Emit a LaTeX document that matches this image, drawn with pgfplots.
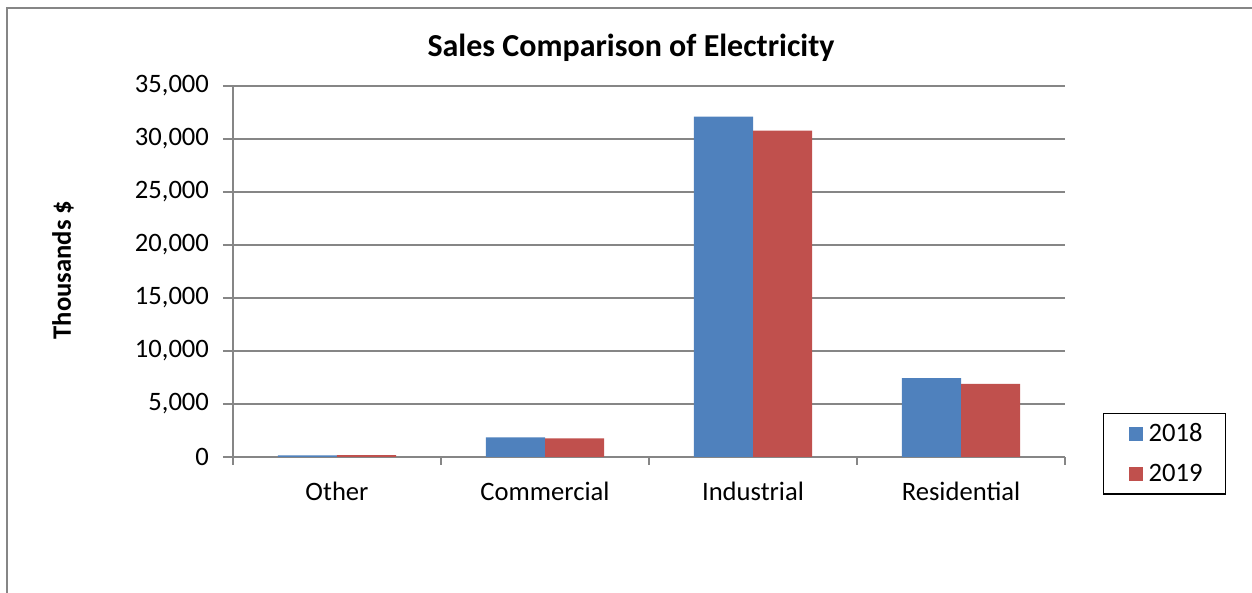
\documentclass[border=0pt]{standalone}
\usepackage{fontspec}
\setmainfont{Carlito}
\usepackage{pgfplots}
\pgfplotsset{compat=1.18}
\definecolor{xblue}{HTML}{4F81BD}
\definecolor{xred}{HTML}{C0504D}
\definecolor{xgray}{HTML}{868686}
\begin{document}
\begin{tikzpicture}
\begin{axis}[
  scale only axis,
  width=416pt, height=185.5pt,
  xmin=-0.5, xmax=3.5,
  ymin=0, ymax=35000,
  ytick={0,5000,...,35000},
  xtick={0,1,2,3},
  xticklabels={Other,Commercial,Industrial,Residential},
  minor xtick={-0.5,0.5,1.5,2.5,3.5},
  major x tick style={draw=none},
  minor x tick style={draw=xgray, line width=0.75pt},
  ytick style={draw=xgray, line width=0.75pt},
  tick align=outside,
  major tick length=5pt,
  minor tick length=4pt,
  axis x line*=bottom,
  axis y line*=left,
  axis line style={draw=xgray, line width=1pt, -},
  ymajorgrids,
  grid style={draw=xgray, line width=0.75pt},
  every axis plot/.append style={draw=none},
  ybar,
  bar width=0.284,
  scaled y ticks=false,
  /pgf/number format/fixed,
  /pgf/number format/1000 sep={,},
  /pgf/number format/assume math mode=true,
  ticklabel style={font=\fontsize{13.3}{16}\selectfont},
  yticklabel style={xshift=-3.5pt},
  xticklabel style={yshift=-4pt},
  clip=false,
  legend style={at={(1.0457,0.1186)}, anchor=north west, draw=black, line width=0.6pt,
    font=\fontsize{13.3}{16}\selectfont, inner xsep=9.5pt, inner ysep=3pt, row sep=5.5pt,
    cells={anchor=west}},
  legend image code/.code={\path (0pt,0pt) (11pt,0pt); \fill[#1] (3pt,-3.5pt) rectangle (10pt,3.5pt);},
]
\addplot[fill=xblue, bar shift=-0.142] coordinates {(0,150) (1,1850) (2,32100) (3,7450)};
\addplot[fill=xred, bar shift=0.142] coordinates {(0,180) (1,1750) (2,30800) (3,6900)};
\legend{2018,2019}
\coordinate (O) at (rel axis cs:0,0);
\end{axis}
\node[font=\bfseries\fontsize{16}{19}\selectfont] at ([shift={(199pt,204.5pt)}]O) {Sales Comparison of Electricity};
\node[rotate=90, font=\bfseries\fontsize{13.3}{16}\selectfont] at ([shift={(-85pt,93.5pt)}]O) {Thousands \$};
\draw[xgray, line width=1pt] ([shift={(-113pt,-90pt)}]O) |- ([shift={(530pt,224.5pt)}]O);
\pgfresetboundingbox
\path ([shift={(-116.5pt,-68pt)}]O) rectangle ([shift={(509.5pt,228.5pt)}]O);
\end{tikzpicture}
\end{document}
